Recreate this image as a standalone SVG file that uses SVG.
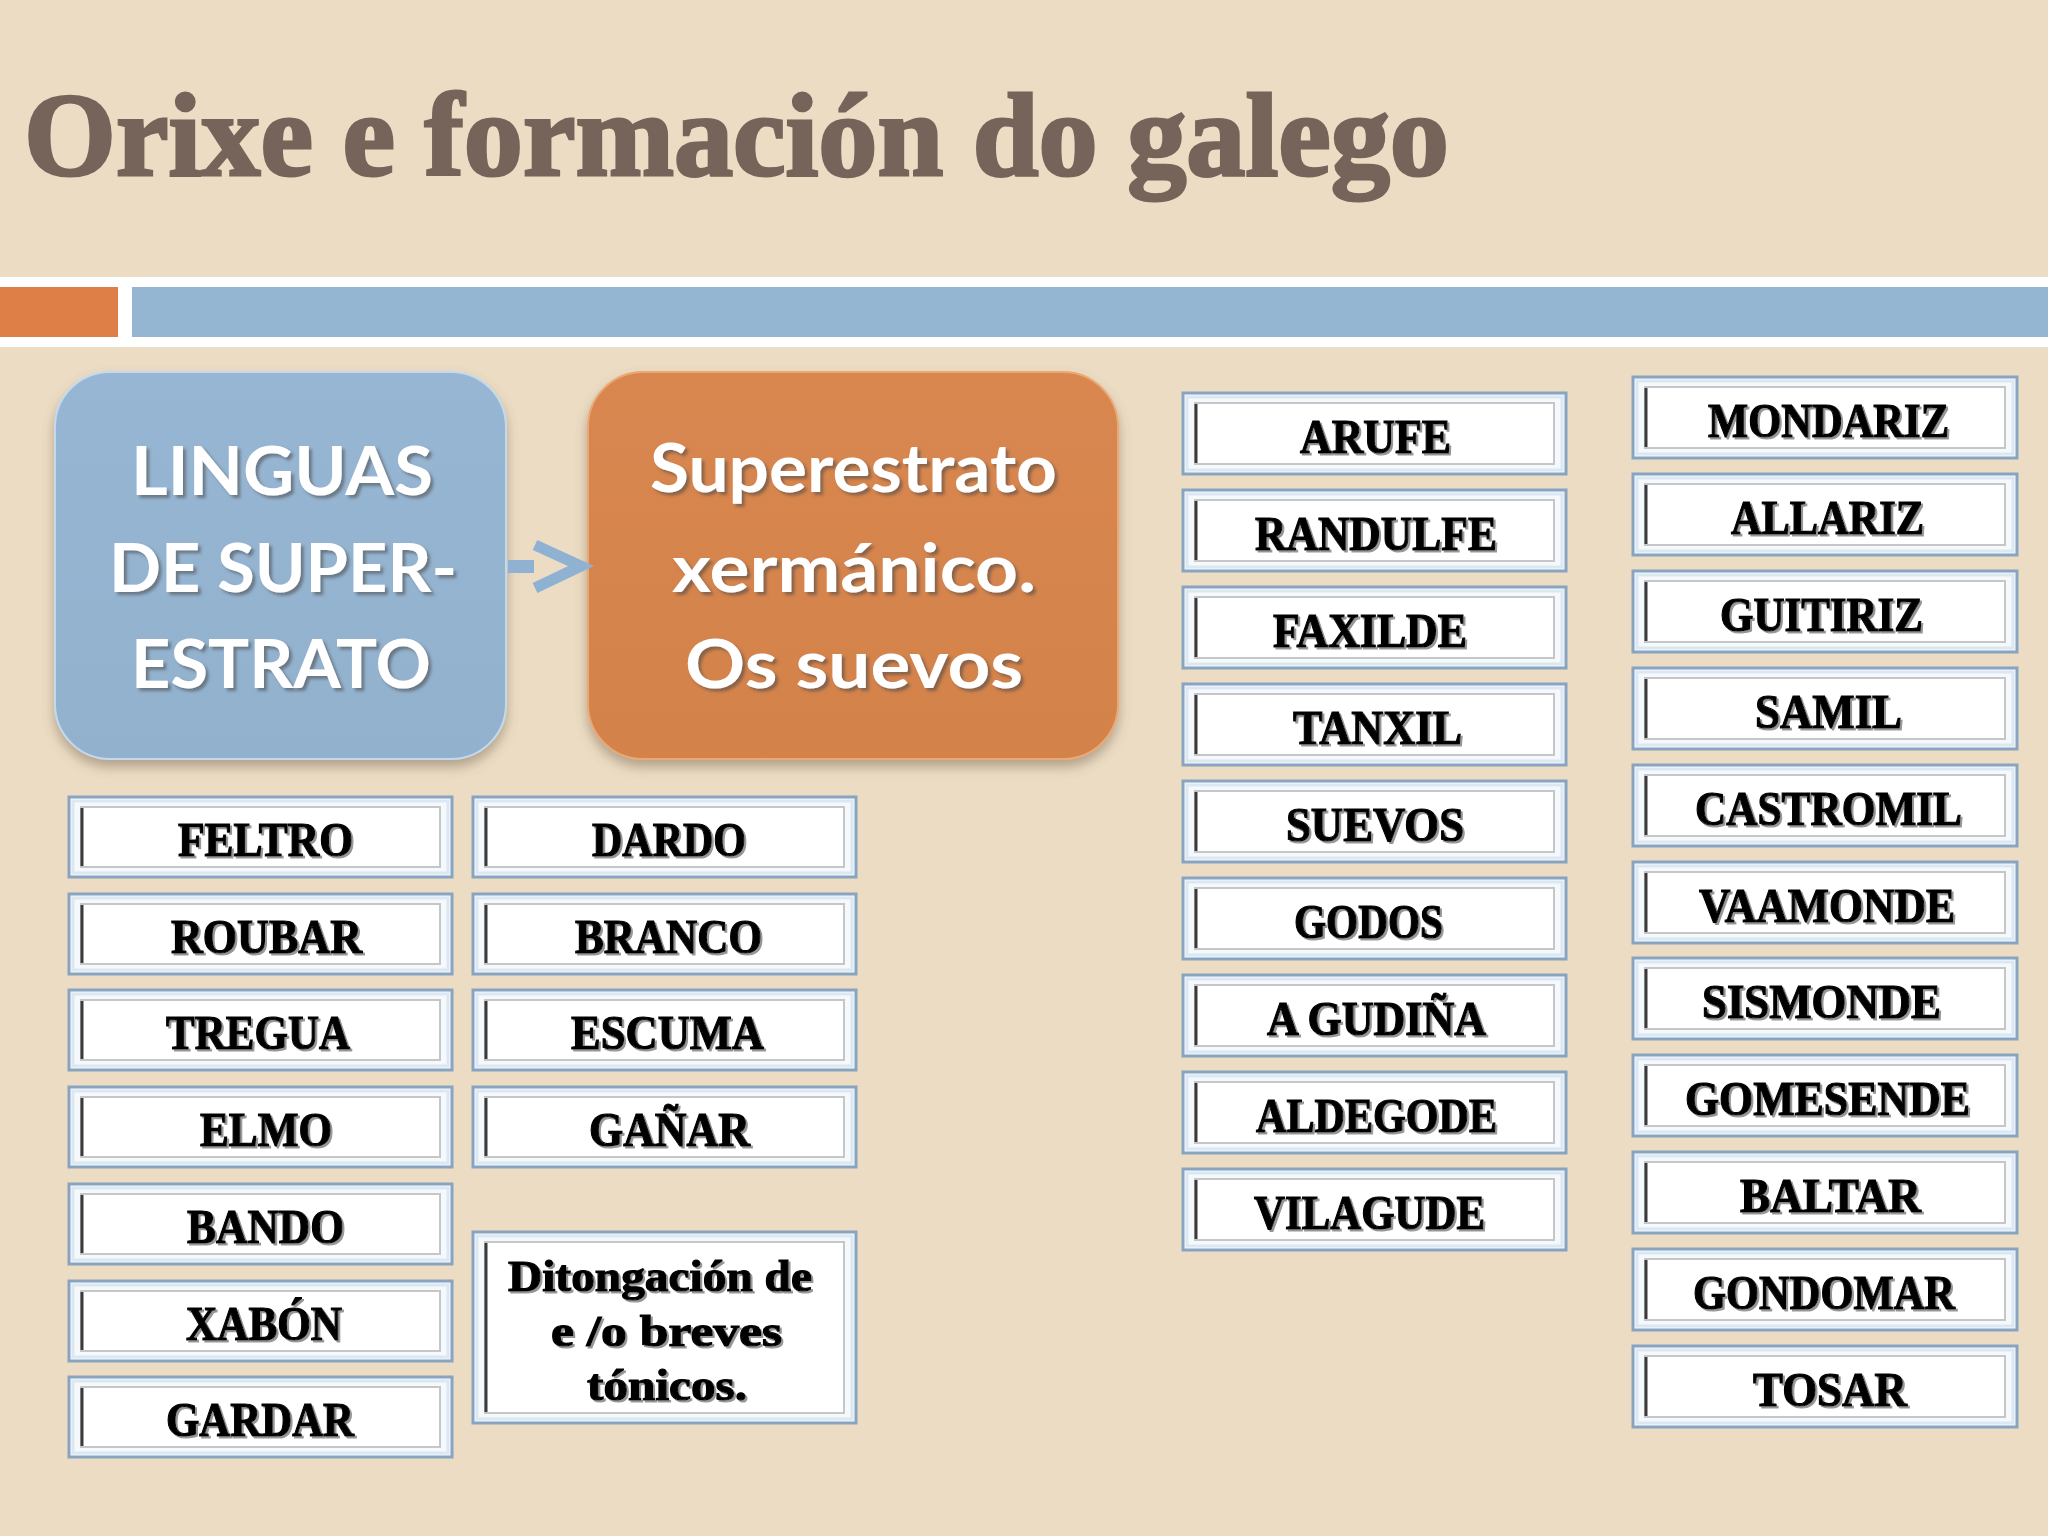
<svg xmlns="http://www.w3.org/2000/svg" width="2048" height="1536" viewBox="0 0 2048 1536">
<defs>
<style>
.bg{fill:#ecdcc4}
.title{font-family:"Liberation Serif",serif;font-weight:bold;font-size:118px;fill:#76645a;stroke:#76645a;stroke-width:3}
.big{font-family:Lato,"Noto Sans",sans-serif;font-weight:bold;font-size:66px;fill:#ffffff;filter:url(#tsh)}
.outer{fill:#f6f9fc;stroke:#87a4c0;stroke-width:3}
.hl{fill:none;stroke:#dbe7f2;stroke-width:3}
.inner{fill:#ffffff;stroke:#c4c6c8;stroke-width:2}
.dark{stroke:#3a3a3a;stroke-width:3}
.w{font-family:"Liberation Serif",serif;font-weight:bold;font-size:48px;fill:#000000;stroke:#000000;stroke-width:1.2;filter:url(#wsh)}
.wl{font-family:"Liberation Serif",serif;font-weight:bold;font-size:45px;fill:#000000;stroke:#000000;stroke-width:1.2;filter:url(#wsh)}
</style>
<filter id="wsh" x="-10%" y="-30%" width="120%" height="160%">
<feDropShadow dx="2" dy="2" stdDeviation="0.7" flood-color="#8a8a8a" flood-opacity="0.9"/>
</filter>
<filter id="tsh" x="-10%" y="-30%" width="120%" height="160%">
<feDropShadow dx="3" dy="3" stdDeviation="1.5" flood-color="#4a4a4a" flood-opacity="0.55"/>
</filter>
<filter id="bsh" x="-10%" y="-10%" width="120%" height="125%">
<feDropShadow dx="0" dy="7" stdDeviation="6" flood-color="#6e5a44" flood-opacity="0.45"/>
</filter>
<linearGradient id="gb" x1="0" y1="0" x2="0" y2="1">
<stop offset="0" stop-color="#97b6d3"/>
<stop offset="1" stop-color="#92b1cd"/>
</linearGradient>
<linearGradient id="go" x1="0" y1="0" x2="0" y2="1">
<stop offset="0" stop-color="#d98750"/>
<stop offset="1" stop-color="#d3824a"/>
</linearGradient>
</defs>

<rect class="bg" x="0" y="0" width="2048" height="1536"/>
<text class="title" x="24" y="175" textLength="1425" lengthAdjust="spacingAndGlyphs">Orixe e formación do galego</text>
<rect x="0" y="277" width="2048" height="70" fill="#ffffff"/>
<rect x="0" y="287" width="118" height="50" fill="#df7f48"/>
<rect x="132" y="287" width="1916" height="50" fill="#94b6d2"/>

<g id="n-linguas">
<rect x="55" y="372" width="451" height="387" rx="55" fill="url(#gb)" stroke="#c3daee" stroke-width="2" filter="url(#bsh)"/>
<text class="big" x="131" y="495" textLength="302" lengthAdjust="spacingAndGlyphs">LINGUAS</text>
<text class="big" x="109" y="592" textLength="348" lengthAdjust="spacingAndGlyphs">DE SUPER-</text>
<text class="big" x="131" y="688" textLength="300" lengthAdjust="spacingAndGlyphs">ESTRATO</text>
</g>
<g id="n-superestrato">
<rect x="588" y="372" width="530" height="387" rx="55" fill="url(#go)" stroke="#eba873" stroke-width="2" filter="url(#bsh)"/>
<text class="big" x="650" y="492" textLength="407" lengthAdjust="spacingAndGlyphs">Superestrato</text>
<text class="big" x="672" y="592" textLength="364" lengthAdjust="spacingAndGlyphs">xermánico.</text>
<text class="big" x="685" y="688" textLength="338" lengthAdjust="spacingAndGlyphs">Os suevos</text>
</g>

<g id="connectors">
<rect x="508" y="560" width="26" height="13" fill="#8fb2d3"/>
<polyline points="535,545 581,566 535,588" fill="none" stroke="#8fb2d3" stroke-width="11"/>
</g>

<!-- Column 1 -->
<g id="n-feltro" transform="translate(69,797)"><rect class="outer" width="383" height="80"/><rect class="hl" x="4" y="4" width="375" height="72"/><rect class="inner" x="12" y="10" width="359" height="60"/><line class="dark" x1="13" y1="11" x2="13" y2="69"/><text class="w" x="109" y="59" textLength="175" lengthAdjust="spacingAndGlyphs">FELTRO</text></g>
<g id="n-roubar" transform="translate(69,894)"><rect class="outer" width="383" height="80"/><rect class="hl" x="4" y="4" width="375" height="72"/><rect class="inner" x="12" y="10" width="359" height="60"/><line class="dark" x1="13" y1="11" x2="13" y2="69"/><text class="w" x="102" y="59" textLength="191" lengthAdjust="spacingAndGlyphs">ROUBAR</text></g>
<g id="n-tregua" transform="translate(69,990)"><rect class="outer" width="383" height="80"/><rect class="hl" x="4" y="4" width="375" height="72"/><rect class="inner" x="12" y="10" width="359" height="60"/><line class="dark" x1="13" y1="11" x2="13" y2="69"/><text class="w" x="97" y="59" textLength="184" lengthAdjust="spacingAndGlyphs">TREGUA</text></g>
<g id="n-elmo" transform="translate(69,1087)"><rect class="outer" width="383" height="80"/><rect class="hl" x="4" y="4" width="375" height="72"/><rect class="inner" x="12" y="10" width="359" height="60"/><line class="dark" x1="13" y1="11" x2="13" y2="69"/><text class="w" x="131" y="59" textLength="132" lengthAdjust="spacingAndGlyphs">ELMO</text></g>
<g id="n-bando" transform="translate(69,1184)"><rect class="outer" width="383" height="80"/><rect class="hl" x="4" y="4" width="375" height="72"/><rect class="inner" x="12" y="10" width="359" height="60"/><line class="dark" x1="13" y1="11" x2="13" y2="69"/><text class="w" x="118" y="59" textLength="157" lengthAdjust="spacingAndGlyphs">BANDO</text></g>
<g id="n-xabon" transform="translate(69,1281)"><rect class="outer" width="383" height="80"/><rect class="hl" x="4" y="4" width="375" height="72"/><rect class="inner" x="12" y="10" width="359" height="60"/><line class="dark" x1="13" y1="11" x2="13" y2="69"/><text class="w" x="117" y="59" textLength="156" lengthAdjust="spacingAndGlyphs">XABÓN</text></g>
<g id="n-gardar" transform="translate(69,1377)"><rect class="outer" width="383" height="80"/><rect class="hl" x="4" y="4" width="375" height="72"/><rect class="inner" x="12" y="10" width="359" height="60"/><line class="dark" x1="13" y1="11" x2="13" y2="69"/><text class="w" x="97" y="59" textLength="188" lengthAdjust="spacingAndGlyphs">GARDAR</text></g>

<!-- Column 2 -->
<g id="n-dardo" transform="translate(473,797)"><rect class="outer" width="383" height="80"/><rect class="hl" x="4" y="4" width="375" height="72"/><rect class="inner" x="12" y="10" width="359" height="60"/><line class="dark" x1="13" y1="11" x2="13" y2="69"/><text class="w" x="119" y="59" textLength="154" lengthAdjust="spacingAndGlyphs">DARDO</text></g>
<g id="n-branco" transform="translate(473,894)"><rect class="outer" width="383" height="80"/><rect class="hl" x="4" y="4" width="375" height="72"/><rect class="inner" x="12" y="10" width="359" height="60"/><line class="dark" x1="13" y1="11" x2="13" y2="69"/><text class="w" x="102" y="59" textLength="187" lengthAdjust="spacingAndGlyphs">BRANCO</text></g>
<g id="n-escuma" transform="translate(473,990)"><rect class="outer" width="383" height="80"/><rect class="hl" x="4" y="4" width="375" height="72"/><rect class="inner" x="12" y="10" width="359" height="60"/><line class="dark" x1="13" y1="11" x2="13" y2="69"/><text class="w" x="98" y="59" textLength="193" lengthAdjust="spacingAndGlyphs">ESCUMA</text></g>
<g id="n-ganar" transform="translate(473,1087)"><rect class="outer" width="383" height="80"/><rect class="hl" x="4" y="4" width="375" height="72"/><rect class="inner" x="12" y="10" width="359" height="60"/><line class="dark" x1="13" y1="11" x2="13" y2="69"/><text class="w" x="116" y="59" textLength="161" lengthAdjust="spacingAndGlyphs">GAÑAR</text></g>
<g id="n-ditongacion" transform="translate(473,1232)"><rect class="outer" width="383" height="191"/><rect class="hl" x="4" y="4" width="375" height="183"/><rect class="inner" x="12" y="10" width="359" height="171"/><line class="dark" x1="13" y1="11" x2="13" y2="180"/><text class="wl" x="35" y="59" textLength="304" lengthAdjust="spacingAndGlyphs">Ditongación de</text><text class="wl" x="78" y="114" textLength="231" lengthAdjust="spacingAndGlyphs">e /o breves</text><text class="wl" x="114" y="168" textLength="160" lengthAdjust="spacingAndGlyphs">tónicos.</text></g>

<!-- Column 3 -->
<g id="n-arufe" transform="translate(1183,393)"><rect class="outer" width="383" height="81"/><rect class="hl" x="4" y="4" width="375" height="73"/><rect class="inner" x="12" y="10" width="359" height="61"/><line class="dark" x1="13" y1="11" x2="13" y2="70"/><text class="w" x="117" y="60" textLength="151" lengthAdjust="spacingAndGlyphs">ARUFE</text></g>
<g id="n-randulfe" transform="translate(1183,490)"><rect class="outer" width="383" height="81"/><rect class="hl" x="4" y="4" width="375" height="73"/><rect class="inner" x="12" y="10" width="359" height="61"/><line class="dark" x1="13" y1="11" x2="13" y2="70"/><text class="w" x="72" y="60" textLength="242" lengthAdjust="spacingAndGlyphs">RANDULFE</text></g>
<g id="n-faxilde" transform="translate(1183,587)"><rect class="outer" width="383" height="81"/><rect class="hl" x="4" y="4" width="375" height="73"/><rect class="inner" x="12" y="10" width="359" height="61"/><line class="dark" x1="13" y1="11" x2="13" y2="70"/><text class="w" x="90" y="60" textLength="194" lengthAdjust="spacingAndGlyphs">FAXILDE</text></g>
<g id="n-tanxil" transform="translate(1183,684)"><rect class="outer" width="383" height="81"/><rect class="hl" x="4" y="4" width="375" height="73"/><rect class="inner" x="12" y="10" width="359" height="61"/><line class="dark" x1="13" y1="11" x2="13" y2="70"/><text class="w" x="110" y="60" textLength="169" lengthAdjust="spacingAndGlyphs">TANXIL</text></g>
<g id="n-suevos" transform="translate(1183,781)"><rect class="outer" width="383" height="81"/><rect class="hl" x="4" y="4" width="375" height="73"/><rect class="inner" x="12" y="10" width="359" height="61"/><line class="dark" x1="13" y1="11" x2="13" y2="70"/><text class="w" x="103" y="60" textLength="178" lengthAdjust="spacingAndGlyphs">SUEVOS</text></g>
<g id="n-godos" transform="translate(1183,878)"><rect class="outer" width="383" height="81"/><rect class="hl" x="4" y="4" width="375" height="73"/><rect class="inner" x="12" y="10" width="359" height="61"/><line class="dark" x1="13" y1="11" x2="13" y2="70"/><text class="w" x="111" y="60" textLength="149" lengthAdjust="spacingAndGlyphs">GODOS</text></g>
<g id="n-agudina" transform="translate(1183,975)"><rect class="outer" width="383" height="81"/><rect class="hl" x="4" y="4" width="375" height="73"/><rect class="inner" x="12" y="10" width="359" height="61"/><line class="dark" x1="13" y1="11" x2="13" y2="70"/><text class="w" x="84" y="60" textLength="219" lengthAdjust="spacingAndGlyphs">A GUDIÑA</text></g>
<g id="n-aldegode" transform="translate(1183,1072)"><rect class="outer" width="383" height="81"/><rect class="hl" x="4" y="4" width="375" height="73"/><rect class="inner" x="12" y="10" width="359" height="61"/><line class="dark" x1="13" y1="11" x2="13" y2="70"/><text class="w" x="73" y="60" textLength="241" lengthAdjust="spacingAndGlyphs">ALDEGODE</text></g>
<g id="n-vilagude" transform="translate(1183,1169)"><rect class="outer" width="383" height="81"/><rect class="hl" x="4" y="4" width="375" height="73"/><rect class="inner" x="12" y="10" width="359" height="61"/><line class="dark" x1="13" y1="11" x2="13" y2="70"/><text class="w" x="71" y="60" textLength="231" lengthAdjust="spacingAndGlyphs">VILAGUDE</text></g>

<!-- Column 4 -->
<g id="n-mondariz" transform="translate(1633,377)"><rect class="outer" width="384" height="81"/><rect class="hl" x="4" y="4" width="376" height="73"/><rect class="inner" x="12" y="10" width="360" height="61"/><line class="dark" x1="13" y1="11" x2="13" y2="70"/><text class="w" x="75" y="60" textLength="241" lengthAdjust="spacingAndGlyphs">MONDARIZ</text></g>
<g id="n-allariz" transform="translate(1633,474)"><rect class="outer" width="384" height="81"/><rect class="hl" x="4" y="4" width="376" height="73"/><rect class="inner" x="12" y="10" width="360" height="61"/><line class="dark" x1="13" y1="11" x2="13" y2="70"/><text class="w" x="98" y="60" textLength="193" lengthAdjust="spacingAndGlyphs">ALLARIZ</text></g>
<g id="n-guitiriz" transform="translate(1633,571)"><rect class="outer" width="384" height="81"/><rect class="hl" x="4" y="4" width="376" height="73"/><rect class="inner" x="12" y="10" width="360" height="61"/><line class="dark" x1="13" y1="11" x2="13" y2="70"/><text class="w" x="87" y="60" textLength="203" lengthAdjust="spacingAndGlyphs">GUITIRIZ</text></g>
<g id="n-samil" transform="translate(1633,668)"><rect class="outer" width="384" height="81"/><rect class="hl" x="4" y="4" width="376" height="73"/><rect class="inner" x="12" y="10" width="360" height="61"/><line class="dark" x1="13" y1="11" x2="13" y2="70"/><text class="w" x="122" y="60" textLength="147" lengthAdjust="spacingAndGlyphs">SAMIL</text></g>
<g id="n-castromil" transform="translate(1633,765)"><rect class="outer" width="384" height="81"/><rect class="hl" x="4" y="4" width="376" height="73"/><rect class="inner" x="12" y="10" width="360" height="61"/><line class="dark" x1="13" y1="11" x2="13" y2="70"/><text class="w" x="62" y="60" textLength="267" lengthAdjust="spacingAndGlyphs">CASTROMIL</text></g>
<g id="n-vaamonde" transform="translate(1633,862)"><rect class="outer" width="384" height="81"/><rect class="hl" x="4" y="4" width="376" height="73"/><rect class="inner" x="12" y="10" width="360" height="61"/><line class="dark" x1="13" y1="11" x2="13" y2="70"/><text class="w" x="66" y="60" textLength="256" lengthAdjust="spacingAndGlyphs">VAAMONDE</text></g>
<g id="n-sismonde" transform="translate(1633,958)"><rect class="outer" width="384" height="81"/><rect class="hl" x="4" y="4" width="376" height="73"/><rect class="inner" x="12" y="10" width="360" height="61"/><line class="dark" x1="13" y1="11" x2="13" y2="70"/><text class="w" x="69" y="60" textLength="239" lengthAdjust="spacingAndGlyphs">SISMONDE</text></g>
<g id="n-gomesende" transform="translate(1633,1055)"><rect class="outer" width="384" height="81"/><rect class="hl" x="4" y="4" width="376" height="73"/><rect class="inner" x="12" y="10" width="360" height="61"/><line class="dark" x1="13" y1="11" x2="13" y2="70"/><text class="w" x="52" y="60" textLength="285" lengthAdjust="spacingAndGlyphs">GOMESENDE</text></g>
<g id="n-baltar" transform="translate(1633,1152)"><rect class="outer" width="384" height="81"/><rect class="hl" x="4" y="4" width="376" height="73"/><rect class="inner" x="12" y="10" width="360" height="61"/><line class="dark" x1="13" y1="11" x2="13" y2="70"/><text class="w" x="107" y="60" textLength="181" lengthAdjust="spacingAndGlyphs">BALTAR</text></g>
<g id="n-gondomar" transform="translate(1633,1249)"><rect class="outer" width="384" height="81"/><rect class="hl" x="4" y="4" width="376" height="73"/><rect class="inner" x="12" y="10" width="360" height="61"/><line class="dark" x1="13" y1="11" x2="13" y2="70"/><text class="w" x="60" y="60" textLength="262" lengthAdjust="spacingAndGlyphs">GONDOMAR</text></g>
<g id="n-tosar" transform="translate(1633,1346)"><rect class="outer" width="384" height="81"/><rect class="hl" x="4" y="4" width="376" height="73"/><rect class="inner" x="12" y="10" width="360" height="61"/><line class="dark" x1="13" y1="11" x2="13" y2="70"/><text class="w" x="120" y="60" textLength="154" lengthAdjust="spacingAndGlyphs">TOSAR</text></g>
</svg>
